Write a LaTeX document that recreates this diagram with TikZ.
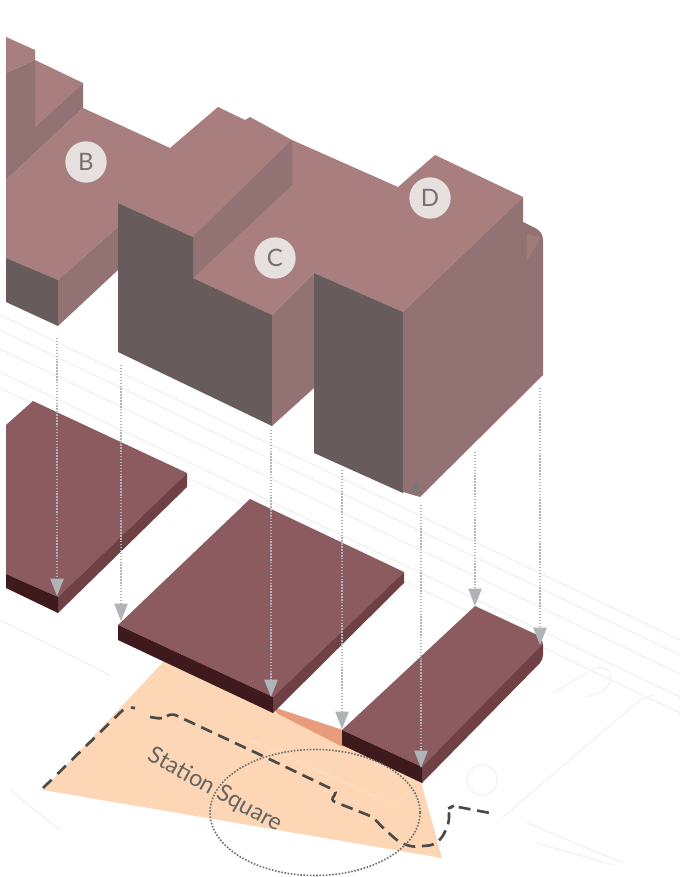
\documentclass[tikz,border=0pt]{standalone}
\usepackage{fontspec}
\setmainfont{Lato}
\usetikzlibrary{arrows.meta}
\definecolor{topc}{HTML}{A87E7E}
\definecolor{medc}{HTML}{927272}
\definecolor{darkc}{HTML}{675B5B}
\definecolor{platec}{HTML}{8B5B5F}
\definecolor{plates}{HTML}{6F4144}
\definecolor{platef}{HTML}{3E1A1C}
\definecolor{peach}{HTML}{FDD6B6}
\definecolor{stripc}{HTML}{E99C7C}
\definecolor{maplc}{HTML}{F1F1F1}
\definecolor{dashc}{HTML}{4A4A46}
\definecolor{arrowc}{HTML}{B0B4B7}
\definecolor{badge}{HTML}{E6E0DE}
\definecolor{badget}{HTML}{777070}
\tikzset{
  maplines/.style={draw=maplc,line width=0.9pt},
  dropline/.style={draw=arrowc,line width=1.1pt,dash pattern=on 1.1pt off 1.1pt,-{Triangle[length=13pt,width=10pt,fill=arrowc]}},
  badgenode/.style={circle,fill=badge,minimum size=31pt,inner sep=0pt,text=badget,font=\fontsize{18}{18}\selectfont},
  sitepath/.style={draw=dashc,line width=2pt,dash pattern=on 9pt off 6pt,rounded corners=4pt},
  ringpath/.style={draw=dashc!80,line width=1.2pt,dash pattern=on 1.2pt off 1.2pt}
}
\begin{document}
\begin{tikzpicture}[x=0.75pt,y=-0.75pt]
\useasboundingbox (0,0) rectangle (680,877);
% faint site plan
\foreach \a in {315,330,349,372,388}{
  \draw[maplines] (0,\a) -- (680,\a+325);
}
\draw[maplines] (0,620) -- (110,675);
\draw[maplines] (10,790) -- (60,830);
\draw[maplines,rounded corners=6pt] (553,693) -- (600,665) -- (613,673) -- (607,690) -- (587,697);
\draw[maplines] (482,780) circle [radius=15];
\draw[maplines] (503,817) -- (640,700) -- (653,695);
\draw[maplines] (527,823) -- (623,863);
\draw[maplines] (537,843) -- (613,865);
% square
\path[fill=peach] (165,660) -- (43,790) -- (442,858) -- (421,782) -- (343,745) -- (278,714) -- (273,700) -- cycle;
\path[fill=stripc] (273,707) -- (343,730) -- (343,747) -- (278,714) -- cycle;
\draw[draw=peach!85!white,line width=1pt,rounded corners=6pt] (250,740) -- (395,805) -- (410,790);
% plates
\path[fill=platec] (6,425) -- (33,401) -- (187,473) -- (58,597) -- (6,574) -- cycle;
\path[fill=plates] (187,473) -- (187,487) -- (58,613) -- (58,597) -- cycle;
\path[fill=platef] (6,574) -- (58,597) -- (58,613) -- (6,588) -- cycle;
\path[fill=platec] (118,625) -- (250,499) -- (404,572) -- (273,697) -- cycle;
\path[fill=plates] (404,572) -- (404,583) -- (273,713) -- (273,697) -- cycle;
\path[fill=platef] (118,625) -- (273,697) -- (273,713) -- (118,640) -- cycle;
\path[fill=platec] (342,730) -- (475,606) -- (533,633) .. controls (540,636) and (543,640) .. (543,646) -- (422,767) -- cycle;
\path[fill=plates] (543,644) -- (543,655) .. controls (543,658) and (542,660) .. (540,663) -- (422,783) -- (422,767) -- cycle;
\path[fill=platef] (342,730) -- (422,767) -- (422,783) -- (342,745) -- cycle;
% upper left block
\path[fill=topc] (6,37) -- (35,50) -- (35,60) -- (6,73) -- cycle;
\path[fill=topc] (35,60) -- (83,83) -- (35,127) -- cycle;
\path[fill=medc] (6,73) -- (35,60) -- (35,127) -- (83,83) -- (83,108) -- (6,180) -- cycle;
% big roof
\path[fill=topc] (6,180) -- (83,108) -- (170,148) -- (218,107) -- (245,120) -- (250,117) -- (292,140) -- (398,187) -- (435,155) -- (523,197) -- (403,312) -- (314,273) -- (272,315) -- (193,278) -- (193,237) -- (118,203) -- (118,227) -- (58,280) -- (6,258) -- cycle;
% faces
\path[fill=darkc] (6,258) -- (58,280) -- (58,326) -- (6,302) -- cycle;
\path[fill=medc] (58,280) -- (118,227) -- (118,270) -- (58,326) -- cycle;
\path[fill=medc] (193,237) -- (292,140) -- (292,185) -- (193,278) -- cycle;
\path[fill=darkc] (118,203) -- (193,237) -- (193,278) -- (272,315) -- (272,426) -- (118,352) -- cycle;
\path[fill=medc] (272,315) -- (314,273) -- (314,388) -- (272,426) -- cycle;
\path[fill=darkc] (314,273) -- (403,312) -- (403,493) -- (314,453) -- cycle;
\path[fill=medc] (403,312) -- (523,197) -- (523,222) -- (533,227) .. controls (540,230) and (543,234) .. (543,240) -- (543,375) -- (420,497) -- (403,492) -- cycle;
\path[fill=topc!70!medc] (527,234) -- (541,238) -- (527,260) -- cycle;
\path[fill=darkc!70!arrowc] (410,492) -- (417,481) -- (422,494) -- cycle;
% site path and ring
\draw[sitepath] (43,788) -- (126,707) -- (135,708);
\draw[sitepath,dash pattern=on 9pt off 5pt] (150,717) -- (163,719) -- (171,713) -- (265,757) -- (338,792) -- (330,800) -- (373,817) -- (382,827) -- (399,842) -- (412,847) -- (434,845) -- (442,838) -- (449,823) -- (449,808) -- (453,806) -- (490,813);
\draw[ringpath] (315,812.5) ellipse [x radius=105,y radius=63];
% label
\node[rotate=-29,text=dashc!85,font=\fontsize{17.5}{17.5}\selectfont,inner sep=0pt] (sq) at (215,790) {Station Square};
% badges
\node[badgenode] (bb) at (86,162) {B};
\node[badgenode] (bc) at (275,258) {C};
\node[badgenode] (bd) at (430,198) {D};
% drop arrows
\foreach \n/\x/\ya/\yb in {a/57/338/596,b/121/365/621,c/271/430/697,d/342/470/729,e/421/505/768,f/475/452/606,g/540/388/645}{
  \coordinate (s\n) at (\x,\ya);
  \coordinate (t\n) at (\x,\yb);
  \draw[dropline] (s\n) -- (t\n);
}
\end{tikzpicture}
\end{document}
